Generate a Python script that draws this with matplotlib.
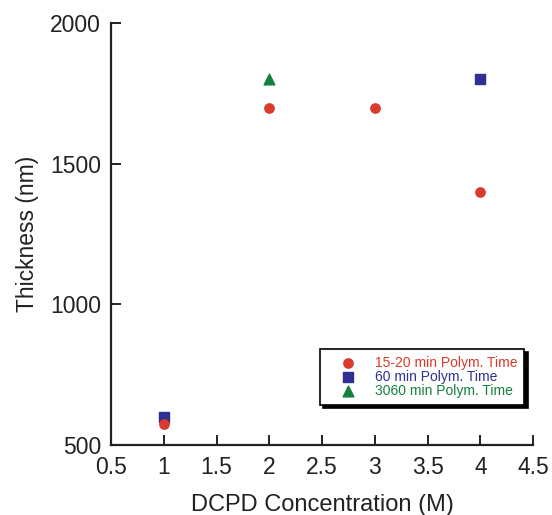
import numpy as np
import matplotlib.pyplot as plt

plt.rcParams['font.family'] = ['Liberation Sans', 'DejaVu Sans']

# data
x_short = [1, 2, 3, 4]
y_short = [575, 1700, 1700, 1400]
x_60 = [1, 4]
y_60 = [600, 1800]
x_3060 = [2]
y_3060 = [1800]

red = '#d93a2b'
blue = '#2e3192'
green = '#14813f'

fig = plt.figure(figsize=(5.52, 5.15), dpi=100)
ax = fig.add_axes([0.201, 0.136, 0.765, 0.819])

ax.scatter(x_short, y_short, marker='o', s=45, color=red, label='15-20 min Polym. Time', zorder=3)
ax.scatter(x_60, y_60, marker='s', s=50, color=blue, label='60 min Polym. Time', zorder=2)
ax.scatter(x_3060, y_3060, marker='^', s=60, color=green, label='3060 min Polym. Time', zorder=3)

ax.set_xlim(0.5, 4.5)
ax.set_ylim(500, 2000)
ax.set_xticks(np.arange(0.5, 4.51, 0.5))
ax.set_xticklabels(['0.5', '1', '1.5', '2', '2.5', '3', '3.5', '4', '4.5'])
ax.set_yticks([500, 1000, 1500, 2000])

for s in ['top', 'right']:
    ax.spines[s].set_visible(False)
for s in ['left', 'bottom']:
    ax.spines[s].set_linewidth(1.6)
    ax.spines[s].set_color('#222222')

ax.tick_params(axis='x', direction='in', length=7, width=1.4, labelsize=16.5, pad=8, colors='#222222')
ax.tick_params(axis='y', direction='in', length=7, width=1.4, labelsize=16.5, pad=7, colors='#222222')

ax.set_xlabel('DCPD Concentration (M)', fontsize=17, labelpad=11, color='#222222')
ax.set_ylabel('Thickness (nm)', fontsize=16.5, labelpad=8, color='#222222')

leg = ax.legend(loc='upper left', bbox_to_anchor=(0.495, 0.2275), fontsize=10,
                frameon=True, fancybox=False, shadow={'ox': 2.5, 'oy': -2.5, 'color': 'black', 'alpha': 1},
                edgecolor='black', handletextpad=0.45, borderpad=0.5, labelspacing=0.0,
                handlelength=3.0, borderaxespad=0)
leg.get_frame().set_linewidth(1.2)
for txt, c in zip(leg.get_texts(), [red, blue, green]):
    txt.set_color(c)

fig.savefig('out.png', dpi=100)
